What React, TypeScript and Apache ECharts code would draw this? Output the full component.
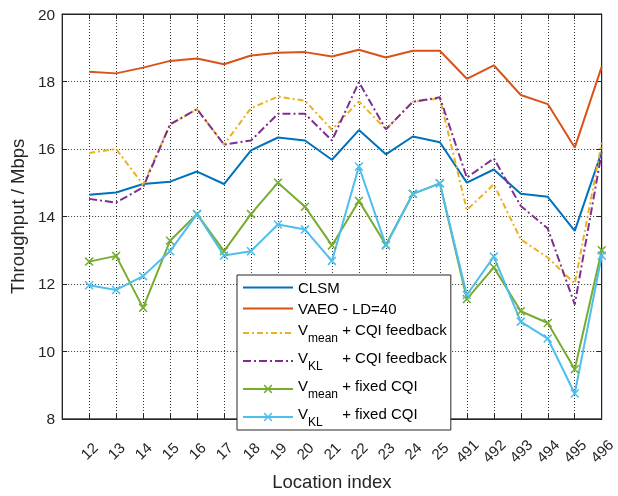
import React, { useEffect, useRef } from "react";
import * as echarts from "echarts";

const categories = ["12", "13", "14", "15", "16", "17", "18", "19", "20", "21", "22", "23", "24", "25", "491", "492", "493", "494", "495", "496"];
const yTicks = [8, 20, 2];

const clsm = [14.64, 14.71, 14.96, 15.03, 15.33, 14.96, 15.96, 16.34, 16.25, 15.68, 16.56, 15.84, 16.37, 16.2, 15.0, 15.39, 14.67, 14.58, 13.57, 15.92];
const vaeo = [18.29, 18.24, 18.41, 18.61, 18.68, 18.51, 18.77, 18.85, 18.87, 18.74, 18.94, 18.71, 18.91, 18.91, 18.08, 18.48, 17.6, 17.33, 16.04, 18.44];
const vmeanCqi = [15.88, 16.0, 14.94, 16.72, 17.18, 16.13, 17.21, 17.55, 17.43, 16.57, 17.41, 16.58, 17.4, 17.5, 14.19, 14.95, 13.32, 12.78, 12.01, 16.18];
const vklCqi = [14.52, 14.41, 14.86, 16.73, 17.18, 16.13, 16.25, 17.04, 17.04, 16.25, 17.98, 16.58, 17.4, 17.53, 15.15, 15.72, 14.31, 13.64, 11.39, 15.9];
const vmeanFixed = [12.66, 12.83, 11.29, 13.28, 14.07, 12.97, 14.07, 15.0, 14.29, 13.14, 14.46, 13.16, 14.67, 14.98, 11.55, 12.49, 11.19, 10.84, 9.47, 13.0];
const vklFixed = [11.96, 11.82, 12.23, 12.97, 14.07, 12.84, 12.97, 13.76, 13.61, 12.68, 15.48, 13.14, 14.67, 14.98, 11.67, 12.81, 10.88, 10.38, 8.75, 12.84];

const seriesNames = ["CLSM", "VAEO", "VmeanCqi", "VklCqi", "VmeanFixed", "VklFixed"];
const noMarker = ["CLSM", "VAEO", "VmeanCqi", "VklCqi"];
const legendLabels: Record<string, string> = {
  CLSM: "{t|CLSM}",
  VAEO: "{t|VAEO - LD=40}",
  VmeanCqi: "{t|V}{sub|mean}{t| + CQI feedback}",
  VklCqi: "{t|V}{sub|KL}{t| + CQI feedback}",
  VmeanFixed: "{t|V}{sub|mean}{t| + fixed CQI}",
  VklFixed: "{t|V}{sub|KL}{t| + fixed CQI}",
};

const FONT = "'Liberation Sans', Arial, Helvetica, sans-serif";
const TXT = "#262626";
const XMARK = "path://M0,1.2L1.2,0L5,3.8L8.8,0L10,1.2L6.2,5L10,8.8L8.8,10L5,6.2L1.2,10L0,8.8L3.8,5Z";

export default function App() {
  const ref = useRef<HTMLDivElement>(null);
  useEffect(() => {
    if (!ref.current) return;
    const chart = echarts.init(ref.current, undefined, { renderer: "svg" });
    const pairs = (arr: number[]) => categories.map((c, i) => [c, arr[i]]);
    const mk = (name: string, data: number[], color: string, opts: any = {}) => ({
      name,
      type: "line",
      data: pairs(data),
      xAxisIndex: 0,
      yAxisIndex: 0,
      symbol: "none",
      lineStyle: { color, width: 2, ...(opts.lineStyle || {}) },
      itemStyle: { color, ...(opts.itemStyle || {}) },
      ...opts.extra,
    });
    const xData = ["", ...categories];
    chart.setOption({
      animation: false,
      textStyle: { fontFamily: FONT },
      grid: { left: 62, right: 16, top: 14, bottom: 65, show: true, borderColor: TXT, borderWidth: 1, backgroundColor: "#fff" },
      legend: {
        orient: "vertical",
        left: 237,
        top: 275,
        data: seriesNames.map((n) => (noMarker.includes(n) ? { name: n, itemStyle: { opacity: 0 } } : { name: n })),
        itemWidth: 50,
        itemHeight: 11,
        itemGap: 6,
        padding: [5, 4, 2, 5],
        backgroundColor: "#fff",
        borderColor: TXT,
        borderWidth: 1,
        borderRadius: 0,
        formatter: (n: string) => legendLabels[n],
        textStyle: {
          fontFamily: FONT,
          color: "#000",
          rich: {
            t: { fontSize: 15, fontFamily: FONT, color: "#000", verticalAlign: "top" },
            sub: { fontSize: 12, fontFamily: FONT, color: "#000", width: 30, verticalAlign: "top", padding: [10, 0, 0, 0] },
          },
        },
      },
      xAxis: [
        {
          type: "category",
          data: xData,
          boundaryGap: false,
          name: "Location index",
          nameLocation: "middle",
          nameGap: 50,
          nameTextStyle: { fontSize: 18.5, color: TXT, fontFamily: FONT },
          axisLine: { lineStyle: { color: TXT, width: 1 } },
          axisTick: { inside: true, length: 5, interval: 0, lineStyle: { color: TXT } },
          axisLabel: { interval: 0, rotate: 45, align: "center", verticalAlign: "middle", margin: 32, fontSize: 15, color: TXT, fontFamily: FONT },
          splitLine: { show: true, interval: 0, lineStyle: { color: "#333", width: 1, type: [1, 2] } },
        },
        {
          type: "category",
          data: xData,
          boundaryGap: false,
          position: "top",
          axisLine: { lineStyle: { color: TXT, width: 1 } },
          axisTick: { inside: true, length: 5, interval: 0, lineStyle: { color: TXT } },
          axisLabel: { show: false },
          splitLine: { show: false },
        },
      ],
      yAxis: [
        {
          type: "value",
          min: yTicks[0],
          max: yTicks[1],
          interval: yTicks[2],
          name: "Throughput / Mbps",
          nameLocation: "middle",
          nameGap: 29,
          nameTextStyle: { fontSize: 18.5, color: TXT, fontFamily: FONT },
          axisLine: { show: true, lineStyle: { color: TXT, width: 1 } },
          axisTick: { show: true, inside: true, length: 5, lineStyle: { color: TXT } },
          axisLabel: { margin: 7, fontSize: 15.5, color: TXT, fontFamily: FONT },
          splitLine: { show: true, lineStyle: { color: "#333", width: 1, type: [1, 2] } },
        },
        {
          type: "value",
          min: yTicks[0],
          max: yTicks[1],
          interval: yTicks[2],
          position: "right",
          axisLine: { show: true, lineStyle: { color: TXT, width: 1 } },
          axisTick: { show: true, inside: true, length: 5, lineStyle: { color: TXT } },
          axisLabel: { show: false },
          splitLine: { show: false },
        },
      ],
      series: [
        mk("CLSM", clsm, "#0072BD"),
        mk("VAEO", vaeo, "#D95319"),
        mk("VmeanCqi", vmeanCqi, "#EDB120", { lineStyle: { type: [6, 3, 2, 3] } }),
        mk("VklCqi", vklCqi, "#7E2F8E", { lineStyle: { type: [8, 3, 2, 3] } }),
        mk("VmeanFixed", vmeanFixed, "#77AC30", { extra: { symbol: XMARK, symbolSize: 9, showAllSymbol: true } }),
        mk("VklFixed", vklFixed, "#4DBEEE", { extra: { symbol: XMARK, symbolSize: 9, showAllSymbol: true } }),
      ],
    });
    return () => chart.dispose();
  }, []);
  return <div ref={ref} style={{ position: "fixed", left: 0, top: 0, width: 618, height: 496 }} />;
}
